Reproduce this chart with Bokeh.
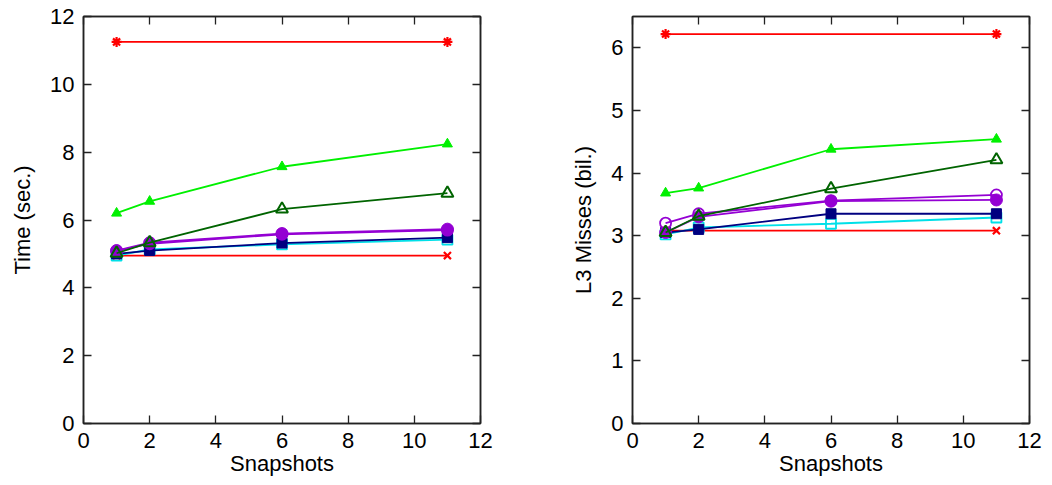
from bokeh.plotting import figure
from bokeh.layouts import row
from bokeh.models import LinearAxis, Range1d, FixedTicker
from bokeh.embed import file_html
from bokeh.resources import INLINE

# ---- data ----
snapshots = [1, 2, 6, 11]
endpoints = [1, 11]

time_star = [11.25, 11.25]
time_x = [4.95, 4.95]
time_lime = [6.2, 6.55, 7.57, 8.24]
time_dkgreen = [5.02, 5.33, 6.32, 6.79]
time_purple_open = [5.08, 5.3, 5.58, 5.7]
time_purple_filled = [5.1, 5.33, 5.6, 5.73]
time_navy = [5.0, 5.1, 5.32, 5.48]
time_cyan = [4.95, 5.13, 5.28, 5.42]

l3_star = [6.22, 6.22]
l3_x = [3.08, 3.08]
l3_lime = [3.68, 3.76, 4.38, 4.54]
l3_dkgreen = [3.05, 3.31, 3.75, 4.21]
l3_purple_open = [3.2, 3.35, 3.56, 3.65]
l3_purple_filled = [3.05, 3.3, 3.55, 3.57]
l3_navy = [3.05, 3.1, 3.35, 3.35]
l3_cyan = [3.02, 3.13, 3.19, 3.29]

x_ticks = [0, 2, 4, 6, 8, 10, 12]
time_ticks = [0, 2, 4, 6, 8, 10, 12]
l3_ticks = [0, 1, 2, 3, 4, 5, 6]

FONT = "Liberation Sans"


def style_axis(ax, ticks, show_labels=True):
    ax.ticker = FixedTicker(ticks=ticks)
    ax.axis_line_color = "#222222"
    ax.axis_line_width = 1.5
    ax.major_tick_line_color = "#222222"
    ax.major_tick_line_width = 1.3
    ax.major_tick_in = 8
    ax.major_tick_out = 0
    ax.minor_tick_line_color = None
    ax.major_label_text_font = FONT
    ax.major_label_text_color = "black"
    ax.major_label_text_font_size = "22px"
    if show_labels:
        ax.major_label_standoff = 9
    else:
        ax.major_label_overrides = {t: "" for t in ticks}
        ax.major_label_standoff = 0
    ax.axis_label_text_font = FONT
    ax.axis_label_text_font_size = "22px"
    ax.axis_label_text_font_style = "normal"
    ax.axis_label_text_color = "black"


def make_fig(ylabel, ymax, yticks, ys, border_left, border_right):
    p = figure(frame_width=397, frame_height=407,
               x_range=Range1d(0, 12), y_range=Range1d(0, ymax),
               output_backend="svg", toolbar_location=None,
               min_border_left=border_left, min_border_right=border_right,
               min_border_top=16, min_border_bottom=54)
    p.grid.visible = False
    p.outline_line_color = "#222222"
    p.outline_line_width = 1.5
    p.background_fill_color = "white"
    p.border_fill_color = "white"
    style_axis(p.xaxis[0], x_ticks)
    style_axis(p.yaxis[0], yticks)
    p.xaxis[0].axis_label = "Snapshots"
    p.xaxis[0].axis_label_standoff = 0
    p.yaxis[0].axis_label = ylabel
    p.yaxis[0].axis_label_standoff = 12
    top = LinearAxis()
    style_axis(top, x_ticks, show_labels=False)
    p.add_layout(top, "above")
    right = LinearAxis()
    style_axis(right, yticks, show_labels=False)
    p.add_layout(right, "right")

    star, xs, lime, dkg, popen, pfill, navy, cyan = ys
    lw = 1.8
    # red x (drawn first, beneath the others)
    p.line(endpoints, xs, color="#ff0000", line_width=lw)
    p.scatter(endpoints, xs, marker="x", size=10, line_color="#ff0000", line_width=2.2)
    # cyan open square
    p.line(snapshots, cyan, color="#00e0e8", line_width=lw)
    p.scatter(snapshots, cyan, marker="square", size=10, line_color="#00e0e8",
              fill_color=None, line_width=1.8)
    # navy filled square
    p.line(snapshots, navy, color="#000080", line_width=lw)
    p.scatter(snapshots, navy, marker="square", size=10, color="#000080")
    # purple filled circle
    p.line(snapshots, pfill, color="#9400d3", line_width=lw)
    p.scatter(snapshots, pfill, marker="circle", size=12, color="#9400d3")
    # purple open circle
    p.line(snapshots, popen, color="#9400d3", line_width=lw)
    p.scatter(snapshots, popen, marker="circle", size=11, line_color="#9400d3",
              fill_color=None, line_width=1.8)
    # dark green open triangle
    p.line(snapshots, dkg, color="#006400", line_width=lw)
    p.scatter(snapshots, dkg, marker="triangle", size=12, line_color="#006400",
              fill_color=None, line_width=2)
    # lime filled triangle
    p.line(snapshots, lime, color="#00f000", line_width=lw)
    p.scatter(snapshots, lime, marker="triangle", size=10, color="#00f000")
    # red asterisk
    p.line(endpoints, star, color="#ff0000", line_width=lw)
    p.scatter(endpoints, star, marker="asterisk", size=10, line_color="#ff0000", line_width=2.2)
    return p


p1 = make_fig("Time (sec.)", 12, time_ticks,
              [time_star, time_x, time_lime, time_dkgreen, time_purple_open,
               time_purple_filled, time_navy, time_cyan], 83, 70)
p2 = make_fig("L3 Misses (bil.)", 6.5, l3_ticks,
              [l3_star, l3_x, l3_lime, l3_dkgreen, l3_purple_open,
               l3_purple_filled, l3_navy, l3_cyan], 82, 15)

layout = row(p1, p2)
open("out.html", "w").write(file_html(layout, INLINE))
